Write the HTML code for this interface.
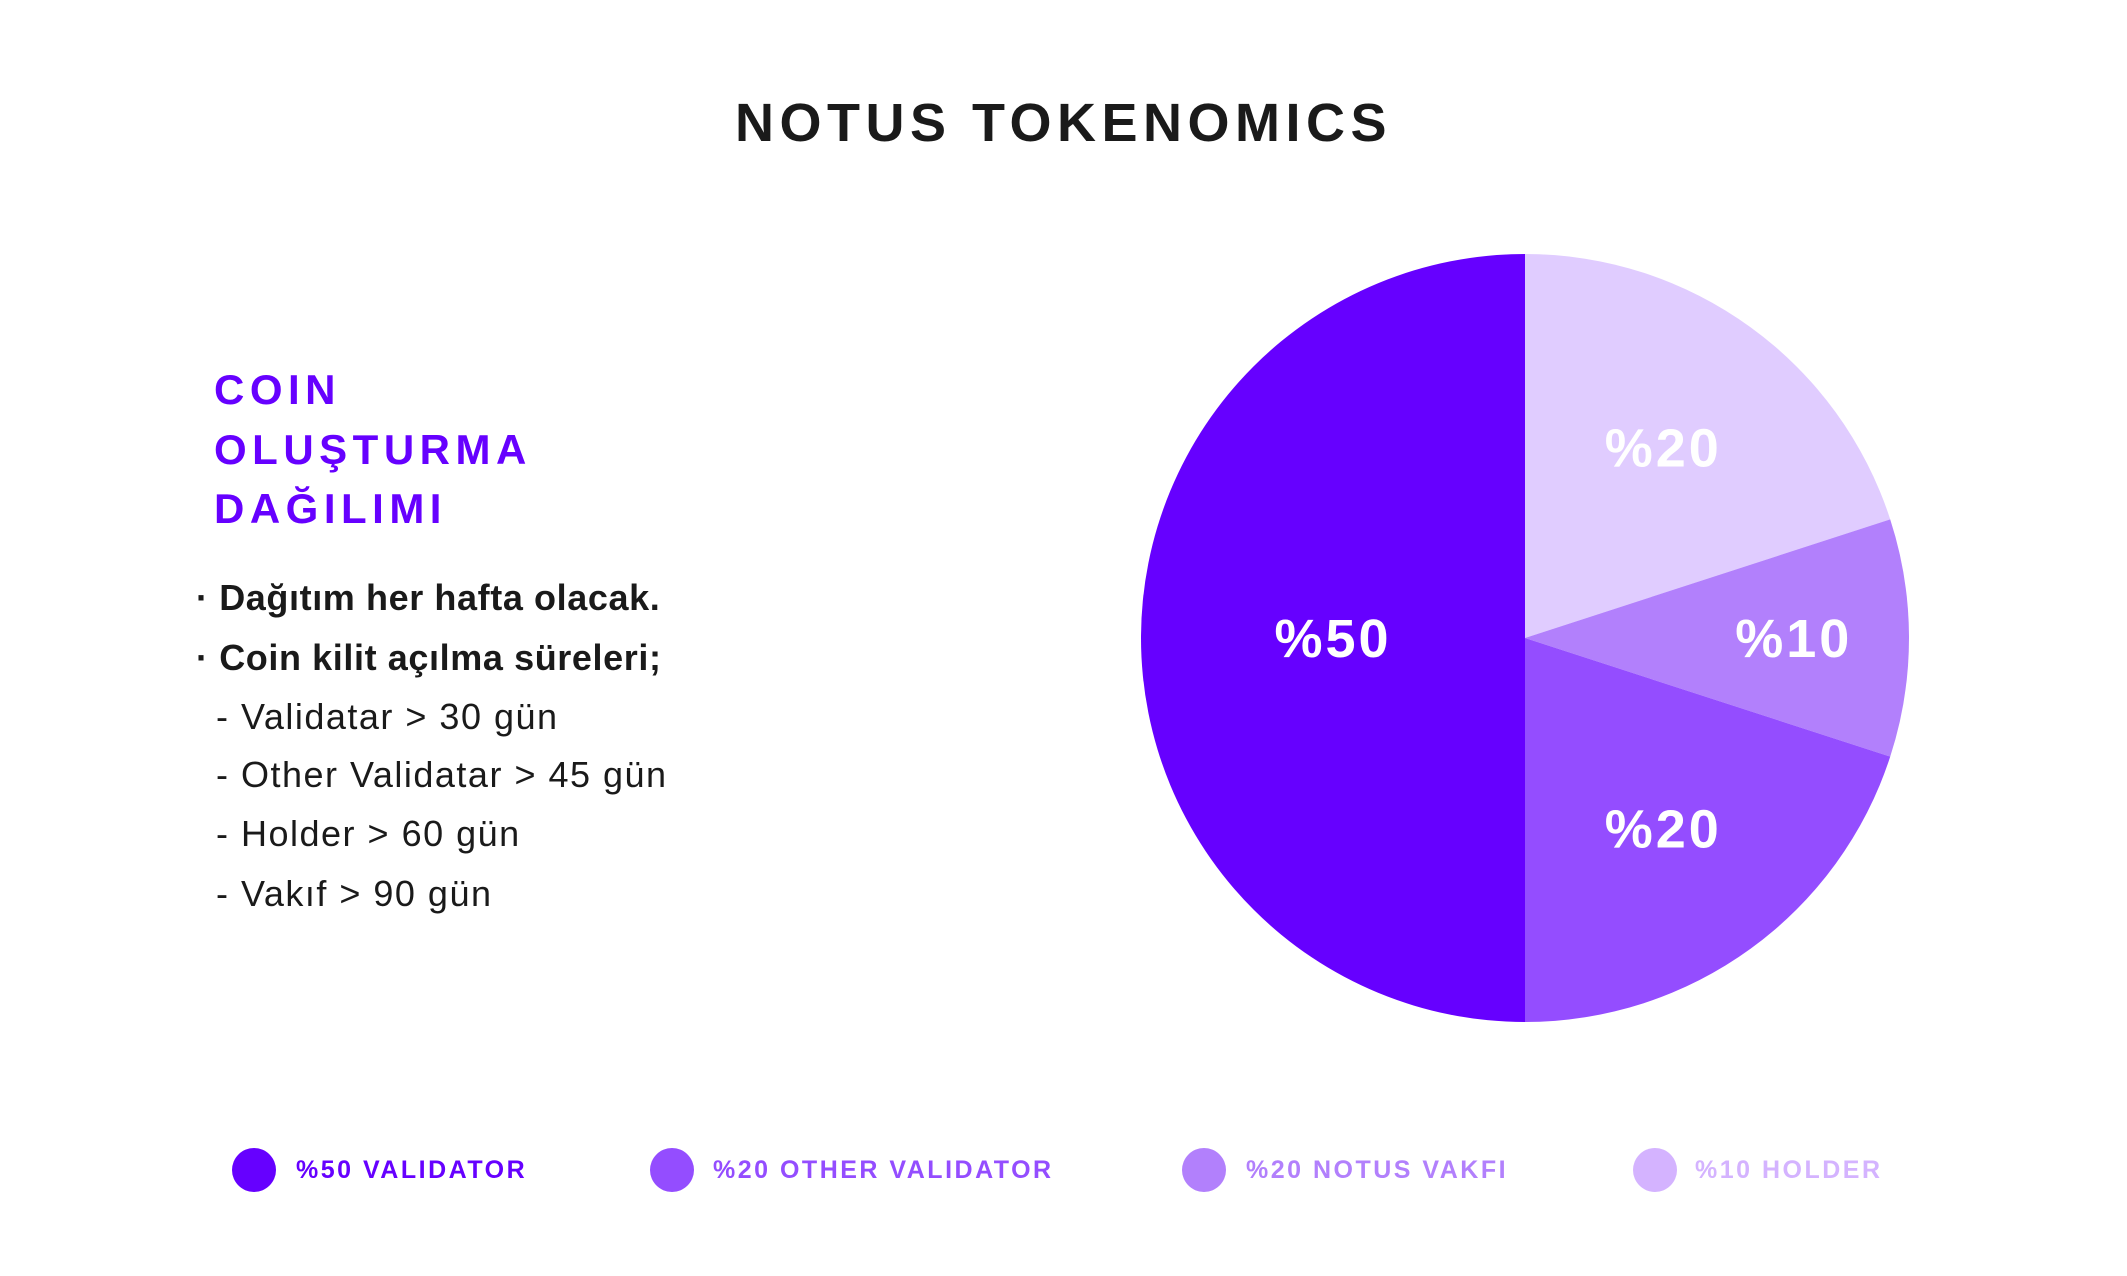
<!DOCTYPE html>
<html><head><meta charset="utf-8"><style>
body{margin:0;width:2127px;height:1276px;background:#fff;overflow:hidden;position:relative;font-family:"Liberation Sans",sans-serif;}
.abs{position:absolute;white-space:nowrap;}
#title{left:0;width:2127px;top:92px;text-align:center;font-size:54px;font-weight:bold;letter-spacing:5.5px;color:#1a1a1a;}
.h{left:214px;font-size:42px;font-weight:bold;color:#6600ff;letter-spacing:5.5px;line-height:42px;}
.b{font-size:36px;color:#1a1a1a;line-height:40px;letter-spacing:1.5px;}
.lg{font-size:25px;font-weight:bold;letter-spacing:2.5px;line-height:30px;}
.dot{width:44px;height:44px;border-radius:50%;}
</style></head><body>
<div id="title" class="abs">NOTUS TOKENOMICS</div>
<div class="abs h" style="top:369px">COIN</div>
<div class="abs h" style="top:429px">OLUŞTURMA</div>
<div class="abs h" style="top:488px">DAĞILIMI</div>
<div class="abs b" style="left:196px;top:578px;font-weight:bold;letter-spacing:0.6px">· Dağıtım her hafta olacak.</div>
<div class="abs b" style="left:196px;top:638px;font-weight:bold;letter-spacing:0.6px">· Coin kilit açılma süreleri;</div>
<div class="abs b" style="left:216px;top:697px">- Validatar &gt; 30 gün</div>
<div class="abs b" style="left:216px;top:755px">- Other Validatar &gt; 45 gün</div>
<div class="abs b" style="left:216px;top:814px">- Holder &gt; 60 gün</div>
<div class="abs b" style="left:216px;top:874px">- Vakıf &gt; 90 gün</div>

<svg id="pie" class="abs" style="left:0;top:0" width="2127" height="1276"></svg>

<div class="abs dot" style="left:232px;top:1148px;background:#6600ff"></div>
<div class="abs lg" style="left:296px;top:1155px;color:#6600ff">%50 VALIDATOR</div>
<div class="abs dot" style="left:650px;top:1148px;background:#944dff"></div>
<div class="abs lg" style="left:713px;top:1155px;color:#944dff">%20 OTHER VALIDATOR</div>
<div class="abs dot" style="left:1182px;top:1148px;background:#b280fc"></div>
<div class="abs lg" style="left:1246px;top:1155px;color:#b280fc">%20 NOTUS VAKFI</div>
<div class="abs dot" style="left:1633px;top:1148px;background:#d4b3ff"></div>
<div class="abs lg" style="left:1695px;top:1155px;color:#d4b3ff">%10 HOLDER</div>

<script>
const categories = ["top", "holder", "vakif", "validator"];
const values = [20, 10, 20, 50];
const labels = ["%20", "%10", "%20", "%50"];
const colors = ["#e0ccff", "#b280fc", "#944dff", "#6600ff"];

const svg = document.getElementById('pie');
const NS = 'http://www.w3.org/2000/svg';
const cx = 1525, cy = 638, R = 384;
const total = values.reduce((a, b) => a + b, 0);
function pt(frac, r) { const a = frac * 2 * Math.PI; return [cx + r * Math.sin(a), cy - r * Math.cos(a)]; }
let acc = 0;
values.forEach((v, i) => {
  const s = acc / total, e = (acc + v) / total; acc += v;
  const [x1, y1] = pt(s, R), [x2, y2] = pt(e, R);
  const large = (e - s) > 0.5 ? 1 : 0;
  const p = document.createElementNS(NS, 'path');
  p.setAttribute('d', `M${cx},${cy} L${x1},${y1} A${R},${R} 0 ${large} 1 ${x2},${y2} Z`);
  p.setAttribute('fill', colors[i]);
  
  
  svg.appendChild(p);
  const q = Math.max(0, (50 - v / total * 100) / 40);
  const f = 0.5 + 0.2 * q * q;
  const [lx, ly] = pt((s + e) / 2, R * f);
  const t = document.createElementNS(NS, 'text');
  t.setAttribute('x', lx); t.setAttribute('y', ly + 19);
  t.setAttribute('text-anchor', 'middle');
  t.setAttribute('fill', '#fff');
  t.setAttribute('font-size', '54');
  t.setAttribute('font-weight', 'bold');
  t.setAttribute('letter-spacing', '3');
  t.setAttribute('font-family', 'Liberation Sans, sans-serif');
  t.textContent = labels[i];
  
  
  svg.appendChild(t);
});
</script>
</body></html>
